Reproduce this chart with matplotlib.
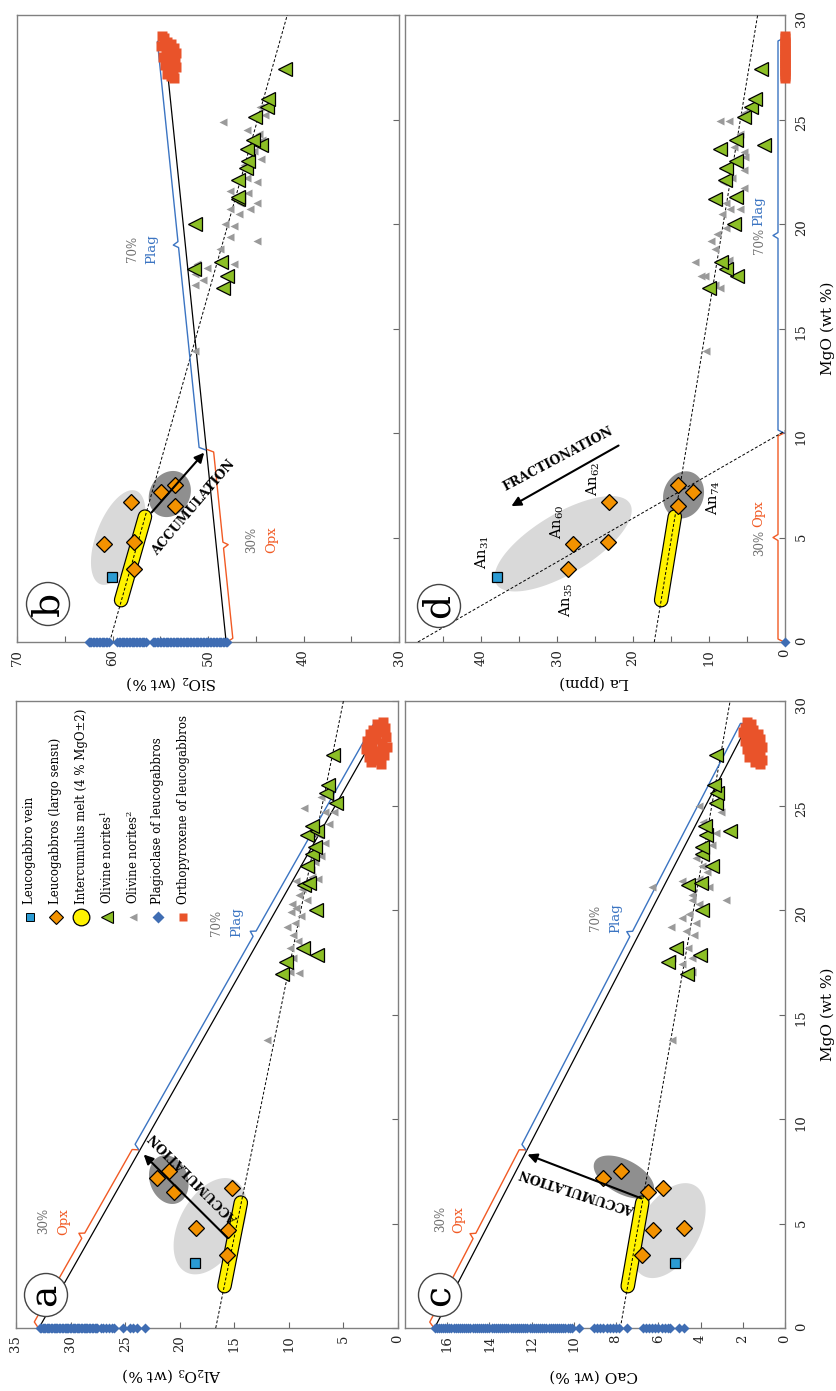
import numpy as np
import matplotlib
matplotlib.use("Agg")
import matplotlib.pyplot as plt
from matplotlib.patches import Circle

plt.rcParams["font.family"] = ["DejaVu Serif"]
plt.rcParams["mathtext.fontset"] = "dejavuserif"

# ------------------------------------------------------------------ data
mgo_ticks = [0, 5, 10, 15, 20, 25, 30]

# plagioclase of leucogabbros (MgO = 0)
plag_al2o3 = [32.8, 32.7, 32.55, 32.45, 32.3, 32.2, 32.05, 31.95, 31.8, 31.7,
              31.55, 31.45, 31.3, 31.2, 31.05, 30.95, 30.8, 30.7, 30.55, 30.45,
              30.3, 30.2, 30.05, 29.95, 29.8, 29.7, 29.55, 29.45, 29.3, 29.2,
              29.05, 28.95, 28.8, 28.7, 28.55, 28.45, 28.3, 28.2, 28.05, 27.95,
              27.8, 27.7, 27.55, 27.2, 27.0, 26.75, 26.5, 26.2, 26.0, 25.2,
              24.6, 24.3, 23.9, 23.2]
plag_sio2 = [62.5, 62.35, 62.2, 62.05, 61.9, 61.75, 61.6, 61.45, 61.3, 61.15,
             61.0, 60.85, 60.7, 60.55, 60.4, 59.5, 59.35, 59.2, 59.05, 58.9,
             58.75, 58.6, 58.45, 58.3, 58.15, 58.0, 57.85, 57.7, 57.55, 57.4,
             57.25, 57.1, 56.95, 56.8, 56.65, 56.5, 55.8, 55.65, 55.5, 55.35,
             55.2, 55.05, 54.9, 54.75, 54.6, 54.45, 54.3, 54.15, 54.0, 53.85,
             53.7, 53.55, 53.4, 53.25, 53.1, 52.95, 52.8, 52.65, 52.5, 52.35,
             52.2, 52.05, 51.9, 51.75, 51.6, 51.45, 51.3, 51.15, 51.0, 50.85,
             50.7, 50.55, 50.4, 50.25, 50.1, 49.95, 49.8, 49.65, 49.5, 49.35,
             49.2, 49.05, 48.9, 48.75, 48.6, 48.45, 48.3, 48.15, 48.0]
plag_cao = [16.6, 16.5, 16.4, 16.3, 16.2, 16.1, 16.0, 15.9, 15.8, 15.7, 15.6,
            15.5, 15.4, 15.3, 15.2, 15.1, 15.0, 14.9, 14.8, 14.7, 14.6, 14.5,
            14.4, 14.3, 14.2, 14.1, 14.0, 13.9, 13.8, 13.7, 13.6, 13.5, 13.4,
            13.3, 13.2, 13.1, 13.0, 12.9, 12.8, 12.7, 12.6, 12.5, 12.4, 12.3,
            12.2, 12.1, 12.0, 11.9, 11.8, 11.7, 11.6, 11.5, 11.4, 11.3, 11.2,
            11.1, 11.0, 10.9, 10.8, 10.7, 10.6, 10.5, 10.4, 10.3, 10.2, 10.1,
            9.75, 9.05, 8.9, 8.75, 8.6, 8.45, 8.3, 8.15, 8.0, 7.85, 7.5, 6.75,
            6.6, 6.45, 6.3, 6.15, 6.0, 5.85, 5.7, 5.55, 5.45, 5.0, 4.8]
plag_la = [0.05]

# orthopyroxene of leucogabbros
opx_mgo = [29.0, 28.9, 28.7, 28.6, 28.5, 28.4, 28.3, 28.2, 28.1, 28.0, 27.9,
           27.8, 27.7, 27.6, 27.5, 27.4, 27.3, 27.2, 27.1, 27.0]
opx_al2o3 = [1.4, 1.9, 1.2, 2.3, 1.6, 2.6, 1.1, 2.0, 2.8, 1.5, 2.4, 1.0, 2.9,
             1.8, 2.2, 1.3, 2.7, 2.0, 2.5, 1.6]
opx_sio2 = [54.8, 54.6, 54.3, 53.9, 54.9, 53.6, 54.4, 53.3, 54.0, 54.7, 53.5,
            54.2, 53.8, 54.5, 53.4, 54.1, 53.7, 54.3, 53.9, 53.6]
opx_cao = [1.8, 1.6, 1.9, 1.5, 2.0, 1.3, 1.7, 1.2, 1.9, 1.4, 1.6, 1.1, 1.8,
           1.3, 1.5, 1.2, 1.7, 1.1, 1.4, 1.2]
opx_la = [0.0, 0.05, 0.0, 0.05, 0.0, 0.05, 0.0, 0.05, 0.0, 0.05, 0.0, 0.05,
          0.0, 0.05, 0.0, 0.05, 0.0, 0.05, 0.0, 0.05]

# leucogabbro vein
vein_mgo = [3.1]
vein_al2o3 = [18.6]
vein_sio2 = [60.1]
vein_cao = [5.2]
vein_la = [37.9]

# leucogabbros (largo sensu)
leuco_mgo = [3.5, 4.7, 4.8, 6.5, 6.7, 7.2, 7.5]
leuco_al2o3 = [15.7, 15.6, 18.5, 20.5, 15.2, 22.1, 21.0]
leuco_sio2 = [57.8, 60.9, 57.7, 53.5, 58.1, 54.9, 53.5]
leuco_cao = [6.76, 6.24, 4.79, 6.49, 5.8, 8.61, 7.79]
leuco_la = [28.5, 27.9, 23.3, 14.1, 23.2, 12.1, 14.1]

# intercumulus melt (4 % MgO +/- 2)
melt_mgo = [2.0, 6.0]
melt_al2o3 = [15.9, 14.4]
melt_sio2 = [59.1, 56.6]
melt_cao = [7.45, 6.76]
melt_la = [16.3, 14.5]

# olivine norites (1)
nor1_mgo = [16.95, 17.5, 17.85, 18.2, 20.0, 21.2, 21.3, 22.1, 22.7, 23.0, 23.6,
            23.8, 24.0, 25.1, 25.6, 26.0, 27.4]
nor1_al2o3 = [10.6, 10.3, 7.4, 8.7, 7.5, 8.6, 8.2, 8.3, 7.9, 7.6, 8.3, 7.4, 7.9,
              5.7, 6.6, 6.4, 6.0]
nor1_sio2 = [48.45, 47.96, 51.5, 48.6, 51.4, 46.9, 46.9, 46.9, 46.0, 45.8, 45.9,
             44.5, 45.3, 45.1, 43.85, 43.7, 41.9]
nor1_cao = [4.63, 5.55, 4.04, 5.18, 3.95, 4.58, 4.0, 3.48, 3.95, 3.95, 3.73,
            2.62, 3.8, 3.29, 3.2, 3.36, 3.29]
nor1_la = [10.0, 6.3, 7.8, 8.4, 6.7, 9.2, 6.4, 7.9, 7.8, 6.5, 8.6, 2.8, 6.5,
           5.4, 4.5, 3.9, 3.2]

# olivine norites (2)
nor2a_mgo = [13.8, 17.05, 17.0, 17.7, 18.2, 18.8, 19.2, 19.4, 19.7, 20.3, 20.5,
             20.7, 21.0, 21.4, 21.6, 21.5, 22.6, 23.2, 24.1, 24.7, 25.4, 25.4,
             24.7, 24.9, 22.3, 23.6, 19.9, 18.5, 20.1, 21.9]
nor2a_al2o3 = [12.0, 9.9, 9.1, 9.6, 9.9, 9.6, 10.2, 9.4, 8.9, 9.7, 8.3, 9.1,
               8.8, 9.3, 7.9, 7.3, 7.1, 6.7, 6.35, 6.7, 7.1, 6.2, 5.9, 8.6,
               7.6, 7.2, 9.8, 9.2, 9.3, 8.0]
nor2b_mgo = [13.9, 17.1, 17.3, 17.6, 17.9, 18.1, 18.1, 18.8, 19.4, 19.9, 20.0,
             20.5, 20.7, 21.0, 20.7, 21.0, 21.5, 22.0, 21.6, 22.2, 23.5, 24.3,
             24.5, 25.2, 24.9, 19.2, 22.8, 23.1, 24.0, 25.6]
nor2b_sio2 = [51.35, 51.35, 50.5, 51.35, 50.1, 51.2, 47.3, 48.7, 47.7, 47.3,
              48.2, 46.8, 47.7, 46.6, 45.6, 44.9, 45.8, 44.9, 47.7, 45.9, 45.2,
              44.7, 45.9, 44.0, 48.45, 44.9, 46.2, 44.4, 44.3, 44.6]
nor2c_mgo = [13.8, 21.1, 20.5, 25.0, 24.7, 17.7, 17.7, 17.05, 17.4, 18.8, 19.2,
             19.6, 19.8, 19.4, 20.3, 20.5, 21.4, 21.5, 21.8, 22.1, 20.7, 21.1,
             23.1, 23.7, 18.2, 22.5, 24.2, 19.0]
nor2c_cao = [5.34, 6.29, 2.81, 4.08, 3.05, 5.34, 4.4, 4.4, 4.87, 4.3, 5.42,
             4.87, 4.55, 4.23, 4.08, 4.39, 4.87, 4.08, 3.68, 3.92, 4.4, 3.6,
             3.44, 3.29, 4.6, 4.2, 3.9, 4.7]
nor2d_mgo = [13.9, 18.2, 17.5, 17.1, 16.95, 17.5, 18.8, 18.3, 19.5, 19.8, 20.5,
             20.7, 20.7, 21.0, 21.3, 21.7, 22.2, 22.6, 23.2, 23.7, 23.45, 24.95,
             24.95, 24.3, 25.05, 25.3, 19.2, 22.0]
nor2d_la = [10.4, 11.8, 11.1, 9.2, 8.5, 10.5, 9.2, 7.4, 8.9, 7.8, 8.3, 7.2, 5.9,
            7.8, 6.5, 5.4, 7.0, 5.4, 5.2, 6.7, 5.4, 8.5, 7.4, 5.9, 5.2, 5.4,
            9.8, 8.1]

# olivine-norite trends: oxide at MgO = 0 and MgO = 30
trend_mgo = [0.0, 30.0]
trend_al2o3 = [16.7, 5.0]
trend_sio2 = [60.3, 41.7]
trend_cao = [7.8, 2.6]
trend_la = [17.2, 3.6]
# anorthite trend of leucogabbro La
an_mgo = [0.0, 10.1]
an_la = [48.3, 0.0]

# plagioclase - orthopyroxene mixing lines (end-members) and 30 % Opx point
mix_mgo = [0.0, 28.9]
mix_al2o3 = [32.9, 1.5]
mix_sio2 = [48.1, 54.6]
mix_cao = [16.6, 1.75]
mix_la = [0.0, 0.0]
split_mgo = {"a": 8.5, "b": 9.2, "c": 8.5, "d": 10.0}

# accumulation / fractionation vectors (MgO, oxide) start -> end
acc_a = ([4.3, 8.3], [15.6, 23.3])
acc_b = ([6.2, 9.06], [55.9, 50.4])
acc_c = ([6.2, 8.3], [6.8, 12.2])
frac_d = ([9.4, 6.5], [21.9, 36.0])

# anorthite content labels (MgO, La)
an_labels = ["An$_{31}$", "An$_{35}$", "An$_{60}$", "An$_{62}$", "An$_{74}$"]
an_lab_mgo = [4.3, 2.0, 5.75, 7.8, 6.9]
an_lab_la = [39.8, 28.8, 29.9, 25.2, 9.4]

# ------------------------------------------------------------------ style
C_VEIN = "#2b9bd3"
C_LEUCO = "#f39200"
C_MELT = "#fff200"
C_NOR1 = "#8cbf26"
C_NOR2 = "#9a9a9a"
C_PLAG = "#3f6db3"
C_OPX = "#e9532a"
C_PLAG_TXT = "#3b74c2"
C_OPX_TXT = "#f15a24"
C_PCT = "#6d6d6d"
C_LIGHT = "#d9d9d9"
C_DARK = "#8f8f8f"

W, H = 836, 1391
fig = plt.figure(figsize=(W / 100, H / 100), dpi=100)


def add_ax(x0, y0, x1, y1):
    return fig.add_axes([x0 / W, 1 - y1 / H, (x1 - x0) / W, (y1 - y0) / H])


ax_b = add_ax(17, 15, 399, 642)
ax_d = add_ax(405, 15, 785, 642)
ax_a = add_ax(16, 701, 398, 1328)
ax_c = add_ax(405, 701, 785, 1328)


def style(ax, lo, hi, step, lab_step, mgo_labels, edge_tick=True):
    ax.set_xlim(hi, lo)
    ax.set_ylim(0, 30)
    ticks = np.arange(lo, hi + 1e-9, step)
    if not edge_tick:
        ticks = ticks[ticks < hi - 1e-9]
    ax.set_xticks(ticks)
    ax.set_xticklabels([f"{t:g}" if abs(t / lab_step - round(t / lab_step)) < 1e-6
                        else "" for t in ticks])
    ax.tick_params(axis="x", direction="in", length=4, width=0.8, color="#666666",
                   labelrotation=90, pad=5, labelsize=9.5, labelcolor="#222222",
                   top=False, bottom=True)
    ax.yaxis.tick_right()
    ax.set_yticks(mgo_ticks)
    ax.tick_params(axis="y", direction="in", length=4, width=0.8, color="#666666",
                   labelrotation=90, pad=7, labelsize=9.5, labelcolor="#222222",
                   left=False, right=True, labelleft=False, labelright=mgo_labels)
    for s in ax.spines.values():
        s.set_color("#808080")
        s.set_linewidth(1.0)


style(ax_a, 0, 35, 5, 5, False)
style(ax_b, 30, 70, 5, 10, False)
style(ax_c, 0, 18, 2, 2, True, edge_tick=False)
style(ax_d, 0, 50, 5, 10, True, edge_tick=False)


def ellipse(ax, mgo, ox, a, b, ang, color):
    t = np.linspace(0, 2 * np.pi, 120)
    c0 = ax.transData.transform((ox, mgo))
    th = np.radians(ang)
    px = c0[0] + a * np.cos(t) * np.cos(th) - b * np.sin(t) * np.sin(th)
    py = c0[1] + a * np.cos(t) * np.sin(th) + b * np.sin(t) * np.cos(th)
    pts = ax.transData.inverted().transform(np.c_[px, py])
    ax.fill(pts[:, 0], pts[:, 1], color=color, lw=0, zorder=1)


def brace(ax, m0, x0, m1, x1, side, color, off=7.0, tip=5.0):
    T = ax.transData
    a = T.transform((x0, m0))
    b = T.transform((x1, m1))
    d = b - a
    u = d / np.hypot(*d)
    n = np.array([-u[1], u[0]]) * side
    m = (a + b) / 2
    r = 3.0
    pts = [a + n * 1.0, a + u * r + n * off, m - u * r + n * off,
           m + n * (off + tip), m + u * r + n * off, b - u * r + n * off,
           b + n * 1.0]
    pts = T.inverted().transform(np.array(pts))
    ax.plot(pts[:, 0], pts[:, 1], color=color, lw=1.0, clip_on=False, zorder=3)


def panel(ax, key, plag, opx, vein, leuco, melt, nor1, nor2_m, nor2_x, trend,
          mix, ell_light, ell_dark, side_opx, side_plag):
    ellipse(ax, *ell_light, C_LIGHT)
    ellipse(ax, *ell_dark, C_DARK)
    ax.plot(trend, trend_mgo, ls=(0, (3, 2)), color="k", lw=0.7, zorder=3)
    # intercumulus melt capsule
    ax.plot(melt, melt_mgo, color="k", lw=10.5, solid_capstyle="round", zorder=2.5)
    ax.plot(melt, melt_mgo, color=C_MELT, lw=8.8, solid_capstyle="round", zorder=2.6)
    # mixing line and brackets
    if key != "d":
        ax.plot(mix, mix_mgo, color="k", lw=0.9, zorder=3)
    s = split_mgo[key]
    xs = mix[0] + (mix[1] - mix[0]) * s / mix_mgo[1]
    brace(ax, 0.0, mix[0], s, xs, side_opx, C_OPX_TXT)
    brace(ax, s, xs, mix_mgo[1], mix[1], side_plag, C_PLAG_TXT)
    ax.plot(nor2_x, nor2_m, ls="none", marker="<", ms=6, color=C_NOR2, mec="none",
            zorder=4)
    ax.plot(nor1, nor1_mgo, ls="none", marker="<", ms=10, mfc=C_NOR1,
            mec="k", mew=0.9, zorder=5)
    ax.plot(plag, [0.0] * len(plag), ls="none", marker="D", ms=5.5, color=C_PLAG,
            mec="none", zorder=5, clip_on=False)
    ax.plot(opx, opx_mgo, ls="none", marker="s", ms=7, color=C_OPX, mec="none",
            zorder=5, clip_on=False)
    ax.plot(leuco, leuco_mgo, ls="none", marker="D", ms=8.5, mfc=C_LEUCO, mec="k",
            mew=0.9, zorder=6)
    ax.plot(vein, vein_mgo, ls="none", marker="s", ms=7.5, mfc=C_VEIN, mec="k",
            mew=0.9, zorder=6)


panel(ax_a, "a", plag_al2o3, opx_al2o3, vein_al2o3, leuco_al2o3, melt_al2o3,
      nor1_al2o3, nor2a_mgo, nor2a_al2o3, trend_al2o3, mix_al2o3,
      (4.87, 17.2, 52, 31, 62), (7.1, 21.0, 25, 19, 110), 1, 1)
panel(ax_b, "b", plag_sio2, opx_sio2, vein_sio2, leuco_sio2, melt_sio2,
      nor1_sio2, nor2b_mgo, nor2b_sio2, trend_sio2, mix_sio2,
      (5.0, 59.4, 50, 22, 69), (7.08, 54.0, 24, 20, 60), -1, 1)
panel(ax_c, "c", plag_cao, opx_cao, vein_cao, leuco_cao, melt_cao,
      nor1_cao, nor2c_mgo, nor2c_cao, trend_cao, mix_cao,
      (4.66, 5.5, 52, 30, 60), (7.22, 7.63, 33, 17, -28), 1, 1)
panel(ax_d, "d", plag_la, opx_la, vein_la, leuco_la, melt_la,
      nor1_la, nor2d_mgo, nor2d_la, trend_la, mix_la,
      (4.7, 29.2, 78, 30, 31), (7.04, 13.35, 24, 20, 70), 1, 1)
ax_d.plot(an_la, an_mgo, ls=(0, (3, 2)), color="k", lw=0.7, zorder=3)

# vectors
arrow_kw = dict(arrowstyle="-|>", color="k", lw=1.5, mutation_scale=14,
                shrinkA=0, shrinkB=0)
for ax, (m, x) in ((ax_a, acc_a), (ax_b, acc_b), (ax_c, acc_c), (ax_d, frac_d)):
    ax.annotate("", xy=(x[1], m[1]), xytext=(x[0], m[0]), arrowprops=arrow_kw,
                zorder=7)

txt_kw = dict(fontweight="bold", fontsize=9, ha="center", va="center",
              rotation_mode="anchor", zorder=8)
ax_a.text(18.66, 7.18, "ACCUMULATION", rotation=134.7, **txt_kw)
ax_b.text(51.5, 6.4, "ACCUMULATION", rotation=49.6, **txt_kw)
ax_c.text(9.81, 6.58, "ACCUMULATION", rotation=162, **txt_kw)
ax_d.text(29.9, 8.74, "FRACTIONATION", rotation=28, **txt_kw)

# bracket captions
lab_kw = dict(rotation=90, ha="center", va="center", zorder=8)
for ax, pos in ((ax_a, (32.5, 30.6, 5.1, 16.6, 14.75, 19.4)),
                (ax_b, (45.4, 43.3, 4.9, 57.9, 55.9, 18.8)),
                (ax_c, (16.3, 15.45, 5.2, 8.97, 8.0, 19.6))):
    ax.text(pos[0], pos[2], "30%", color=C_PCT, fontsize=8.5, **lab_kw)
    ax.text(pos[1], pos[2], "Opx", color=C_OPX_TXT, fontsize=9.5, **lab_kw)
    ax.text(pos[3], pos[5], "70%", color=C_PCT, fontsize=8.5, **lab_kw)
    ax.text(pos[4], pos[5], "Plag", color=C_PLAG_TXT, fontsize=9.5, **lab_kw)
ax_d.text(3.4, 4.73, "30%", color=C_PCT, fontsize=8.5, **lab_kw)
ax_d.text(3.4, 6.14, "Opx", color=C_OPX_TXT, fontsize=9.5, **lab_kw)
ax_d.text(3.4, 19.2, "70%", color=C_PCT, fontsize=8.5, **lab_kw)
ax_d.text(3.4, 20.6, "Plag", color=C_PLAG_TXT, fontsize=9.5, **lab_kw)

for lab, m, x in zip(an_labels, an_lab_mgo, an_lab_la):
    ax_d.text(x, m, lab, fontsize=10.5, **lab_kw)

# axis titles
fig.text(171 / W, 1 - 683 / H, "SiO$_2$ (wt %)", rotation=180, ha="center",
         va="center", fontsize=11)
fig.text(594 / W, 1 - 682 / H, "La (ppm)", rotation=180, ha="center",
         va="center", fontsize=11)
fig.text(171 / W, 1 - 1375 / H, "Al$_2$O$_3$ (wt %)", rotation=180, ha="center",
         va="center", fontsize=11)
fig.text(594 / W, 1 - 1375 / H, "CaO (wt %)", rotation=180, ha="center",
         va="center", fontsize=11)
fig.text(828 / W, 1 - 328 / H, "MgO (wt %)", rotation=90, ha="center",
         va="center", fontsize=11)
fig.text(828 / W, 1 - 1014 / H, "MgO (wt %)", rotation=90, ha="center",
         va="center", fontsize=11)

# overlay in pixel coordinates for panel letters and legend
ov = fig.add_axes([0, 0, 1, 1], zorder=10)
ov.set_xlim(0, W)
ov.set_ylim(H, 0)
ov.axis("off")
ov.patch.set_alpha(0)
for letter, cx, cy in (("a", 46, 1295), ("b", 48, 604), ("c", 440, 1295),
                       ("d", 439, 606)):
    ov.add_patch(Circle((cx, cy), 21.5, fc="white", ec="#444444", lw=1.0))
    ov.text(cx, cy, letter, rotation=90, ha="center", va="center", fontsize=27)

legend_items = [
    ("Leucogabbro vein", dict(marker="s", ms=6, mfc=C_VEIN, mec="k", mew=0.7)),
    ("Leucogabbros (largo sensu)", dict(marker="D", ms=7, mfc=C_LEUCO, mec="k", mew=0.8)),
    ("Intercumulus melt (4 % MgO±2)", dict(marker="o", ms=12, mfc=C_MELT, mec="k", mew=0.9)),
    ("Olivine norites$^{1}$", dict(marker="<", ms=9, mfc=C_NOR1, mec="k", mew=0.8)),
    ("Olivine norites$^{2}$", dict(marker="<", ms=6, mfc=C_NOR2, mec="none")),
    ("Plagioclase of leucogabbros", dict(marker="D", ms=6, mfc=C_PLAG, mec="none")),
    ("Orthopyroxene of leucogabbros", dict(marker="s", ms=6, mfc=C_OPX, mec="none")),
]
leg_x = [30, 56, 81, 107, 133, 158, 183]
for (label, mk), lx in zip(legend_items, leg_x):
    ov.plot([lx], [917], ls="none", **mk)
    ov.text(lx, 904, label, rotation=90, ha="center", va="bottom", fontsize=8.5)

fig.savefig("out.png", dpi=100)
